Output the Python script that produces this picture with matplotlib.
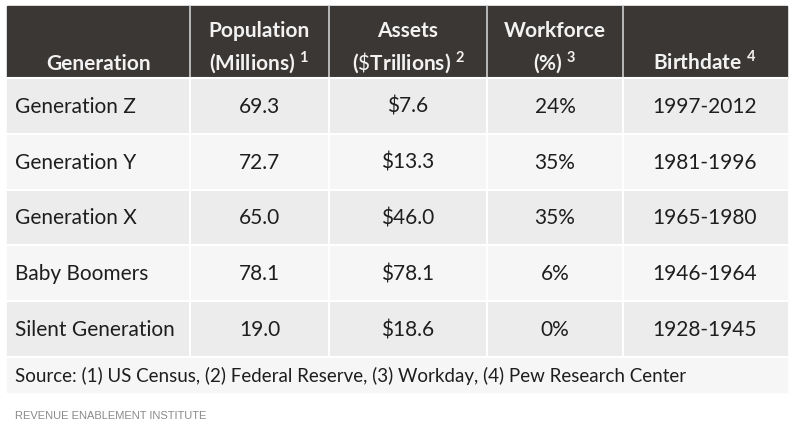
import matplotlib.pyplot as plt
from matplotlib.patches import Rectangle

# datos de la tabla
headers = ["Generation", "Population\n(Millions) $^{\\mathbf{1}}$", "Assets\n($\\$$Trillions) $^{\\mathbf{2}}$",
           "Workforce\n(%) $^{\\mathbf{3}}$", "Birthdate $^{\\mathbf{4}}$"]
generations = ["Generation Z", "Generation Y", "Generation X", "Baby Boomers", "Silent Generation"]
population = ["69.3", "72.7", "65.0", "78.1", "19.0"]
assets = ["$7.6", "$13.3", "$46.0", "$78.1", "$18.6"]
workforce = ["24%", "35%", "35%", "6%", "0%"]
birthdate = ["1997-2012", "1981-1996", "1965-1980", "1946-1964", "1928-1945"]
source = "Source: (1) US Census, (2) Federal Reserve, (3) Workday, (4) Pew Research Center"
credit = "REVENUE ENABLEMENT INSTITUTE"

plt.rcParams['font.family'] = ['Lato', 'DejaVu Sans']
plt.rcParams['mathtext.fontset'] = 'custom'
plt.rcParams['mathtext.rm'] = 'Lato'
plt.rcParams['mathtext.bf'] = 'Lato:bold'

fig = plt.figure(figsize=(7.92, 4.48), dpi=100)
ax = fig.add_axes([0, 0, 1, 1])
ax.set_xlim(0, 792)
ax.set_ylim(448, 0)
ax.axis('off')

col_x = [7, 190, 329, 487, 623, 787]  # bordes de columnas
head_top, head_bot = 6, 78
row_h = 55.8
src_h = 35

# encabezado
ax.add_patch(Rectangle((col_x[0], head_top), col_x[-1] - col_x[0], head_bot - head_top,
                       color="#3b3735", zorder=1))
for x in col_x[1:-1]:
    ax.plot([x, x], [head_top, head_bot], color="#cfcfcf", lw=1.2, zorder=2)
for i, h in enumerate(headers):
    cx = (col_x[i] + col_x[i + 1]) / 2
    ax.text(cx, head_bot - 8, h, ha='center', va='baseline', color="#f2f2f2",
            fontsize=15, fontweight='bold', linespacing=1.4, zorder=3)

# filas
columns = [generations, population, assets, workforce, birthdate]
for r in range(len(generations)):
    y0 = head_bot + r * row_h
    fill = "#ececec" if r % 2 == 0 else "#f6f6f6"
    ax.add_patch(Rectangle((col_x[0], y0), col_x[-1] - col_x[0], row_h, color=fill, zorder=1))
    ax.plot([col_x[0], col_x[-1]], [y0, y0], color="white", lw=1.5, zorder=2)
    for c, vals in enumerate(columns):
        if c == 0:
            ax.text(col_x[0] + 8, y0 + row_h / 2 + 1, vals[r], ha='left', va='center',
                    color="#1e1e1e", fontsize=15, zorder=3)
        else:
            cx = (col_x[c] + col_x[c + 1]) / 2
            ax.text(cx, y0 + row_h / 2 + 1, vals[r], ha='center', va='center',
                    color="#1e1e1e", fontsize=15, zorder=3)

body_bot = head_bot + len(generations) * row_h
for x in col_x[1:-1]:
    ax.plot([x, x], [head_bot, body_bot], color="white", lw=1.5, zorder=2)

# fila de fuentes
ax.add_patch(Rectangle((col_x[0], body_bot), col_x[-1] - col_x[0], src_h, color="#f6f6f6", zorder=1))
ax.plot([col_x[0], col_x[-1]], [body_bot, body_bot], color="white", lw=1.5, zorder=2)
ax.text(col_x[0] + 8, body_bot + src_h / 2 + 1, source, ha='left', va='center',
        color="#1e1e1e", fontsize=13.5, zorder=3)

# credito
ax.text(15, 416, credit, ha='left', va='center', color="#8a8a8a", fontsize=8,
        family=['Liberation Sans', 'DejaVu Sans'])

fig.savefig("out.png", dpi=100)
